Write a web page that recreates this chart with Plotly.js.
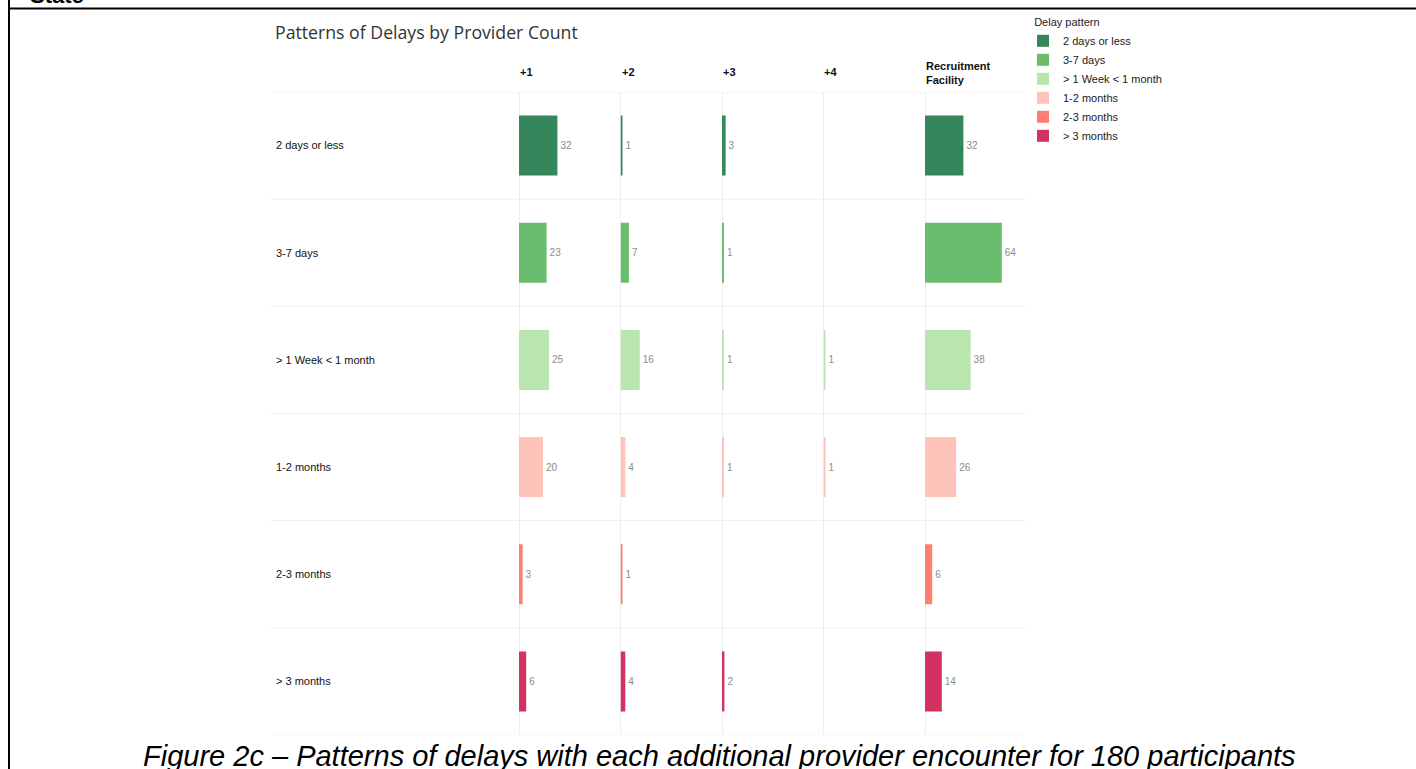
<!DOCTYPE html>
<html>
<head>
<meta charset="utf-8">
<script src="https://cdn.plot.ly/plotly-3.0.1.min.js"></script>
<style>
  html, body { margin: 0; padding: 0; background: #ffffff; }
  #chart { width: 1416px; height: 769px; }
</style>
</head>
<body>
<div id="chart"></div>
<script>
// ---------- data ----------
const patterns = ["2 days or less", "3-7 days", "> 1 Week < 1 month", "1-2 months", "2-3 months", "> 3 months"];
const columnLabels = ["+1", "+2", "+3", "+4", "Recruitment<br>Facility"];
const plusOne   = [32, 23, 25, 20, 3, 6];
const plusTwo   = [1, 7, 16, 4, 1, 4];
const plusThree = [3, 1, 1, 1, null, 2];
const plusFour  = [null, null, 1, 1, null, null];
const recruitmentFacility = [32, 64, 38, 26, 6, 14];
const patternColors = ["#35875b", "#69bd6d", "#b8e6ae", "#fec4bc", "#ff7f6e", "#d2325f"];

const columnValues = [plusOne, plusTwo, plusThree, plusFour, recruitmentFacility];

// ---------- layout geometry (pixels) ----------
const W = 1416, H = 769;
const mT = 92, mB = 34;
const plotH = H - mT - mB;
const labelLeft = 271;
const colStarts = [519, 620.5, 722, 823.5, 925];
const gridRight = 1025;
const pxPerUnit = 1.2;
const px = v => v / W;
const py = v => (H - mB - v) / plotH;
const axId = ci => (ci === 0 ? "" : String(ci + 1));

const traces = [];
columnValues.forEach((vals, ci) => {
  patterns.forEach((p, pi) => {
    if (vals[pi] === null || vals[pi] === undefined) return;
    traces.push({
      type: "bar",
      orientation: "h",
      x: [vals[pi]],
      y: [p],
      name: p,
      legendgroup: p,
      showlegend: ci === 0,
      xaxis: "x" + axId(ci),
      yaxis: "y",
      marker: { color: patternColors[pi], line: { width: 0 } },
      text: [String(vals[pi])],
      textposition: "outside",
      cliponaxis: false,
      textfont: { family: "Liberation Sans, Arial, sans-serif", size: 10, color: "#8c8c8c" },
      hovertemplate: p + ": %{x}<extra></extra>"
    });
  });
});

const layout = {
  width: W, height: H,
  margin: { l: 0, r: 0, t: mT, b: mB, pad: 0 },
  paper_bgcolor: "#ffffff",
  plot_bgcolor: "rgba(0,0,0,0)",
  barmode: "overlay",
  bargap: 0.44,
  font: { family: "Liberation Sans, Arial, sans-serif", size: 11, color: "#222" },
  title: {
    text: "Patterns of Delays by Provider Count",
    x: px(275), xanchor: "left",
    y: 1 - 33 / H, yanchor: "middle",
    font: { family: "Open Sans, sans-serif", size: 17.7, color: "#333" }
  },
  showlegend: true,
  legend: {
    x: px(1023), xanchor: "left",
    y: py(12), yanchor: "top",
    traceorder: "normal",
    font: { family: "Liberation Sans, Arial, sans-serif", size: 11, color: "#222" },
    title: { text: "\u00a0\u00a0\u00a0Delay pattern", font: { family: "Liberation Sans, Arial, sans-serif", size: 11, color: "#222" } },
    bgcolor: "rgba(0,0,0,0)",
    itemclick: false, itemdoubleclick: false
  },
  yaxis: {
    type: "category",
    categoryorder: "array",
    categoryarray: patterns,
    range: [patterns.length - 0.5, -0.5],
    anchor: "free",
    position: px(labelLeft),
    side: "right",
    ticks: "",
    ticklabelstandoff: 4,
    showgrid: false,
    zeroline: false, showline: false,
    tickfont: { family: "Liberation Sans, Arial, sans-serif", size: 11, color: "#111" },
    fixedrange: true
  },
  annotations: [],
  shapes: []
};

columnLabels.forEach((lab, ci) => {
  const start = colStarts[ci];
  const end = ci < colStarts.length - 1 ? colStarts[ci + 1] : gridRight;
  layout["xaxis" + axId(ci)] = {
    domain: [px(start), px(end)],
    range: [0, (end - start) / pxPerUnit],
    anchor: "y",
    showticklabels: false, showgrid: false,
    zeroline: true, zerolinecolor: "#efefef", zerolinewidth: 1,
    fixedrange: true
  };
  layout.annotations.push({
    text: "<b>" + lab + "</b>",
    xref: "x" + axId(ci) + " domain", x: 0, xanchor: "left",
    yref: "paper", y: py(lab.indexOf("<br>") >= 0 ? 73 : 72), yanchor: "middle",
    showarrow: false, align: "left", borderpad: 0,
    font: { family: "Liberation Sans, Arial, sans-serif", size: 11, color: "#111" }
  });
});

// row separators (category boundaries)
for (let k = 0; k <= patterns.length; k++) {
  layout.shapes.push({
    type: "line", xref: "paper", yref: "y", layer: "below",
    x0: px(labelLeft), x1: px(gridRight), y0: k - 0.5, y1: k - 0.5,
    line: { color: "#efefef", width: 1 }
  });
}

// cut-off heading above the frame
layout.annotations.push({
  text: "<b>State</b>",
  xref: "paper", x: px(29), xanchor: "left",
  yref: "paper", y: py(9), yanchor: "bottom",
  showarrow: false, borderpad: 0,
  font: { family: "Liberation Sans, Arial, sans-serif", size: 22, color: "#000" }
});

// caption
layout.annotations.push({
  text: "Figure 2c \u2013 Patterns of delays with each additional provider encounter for 180 participants",
  xref: "paper", x: px(719.5), xanchor: "center",
  yref: "paper", y: py(756), yanchor: "middle",
  showarrow: false,
  font: { family: "Liberation Sans, Arial, sans-serif", size: 29, color: "#000", style: "italic" }
});

// frame lines
layout.shapes.push({
  type: "line", xref: "paper", yref: "paper",
  x0: px(9), x1: px(9), y0: py(H), y1: py(0),
  line: { color: "#000", width: 2 }
});
layout.shapes.push({
  type: "line", xref: "paper", yref: "paper",
  x0: px(8), x1: px(W), y0: py(8.5), y1: py(8.5),
  line: { color: "#000", width: 2 }
});

Plotly.newPlot("chart", traces, layout, { displayModeBar: false, responsive: false });
</script>
</body>
</html>
